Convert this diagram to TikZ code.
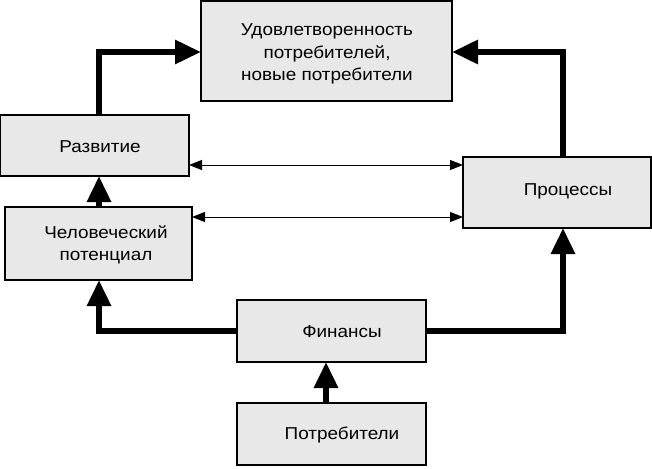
\documentclass[tikz,border=0pt]{standalone}
\usepackage{fontspec}
\setmainfont{Liberation Sans}
\newfontfamily\boxfont[FakeStretch=1.1]{Liberation Sans}
\usetikzlibrary{arrows.meta}
\begin{document}
\begin{tikzpicture}[x=1pt,y=-1pt,
  box/.style={draw=black,line width=1.5pt,fill=black!9},
  lbl/.style={font=\boxfont\fontsize{17.2}{22.5}\selectfont,align=center,inner sep=0pt},
  thick arrow/.style={line width=6pt,-{Triangle[length=26pt,width=23pt]}},
  thin arrow/.style={line width=1pt,{Triangle[length=13pt,width=10pt]}-{Triangle[length=13pt,width=10pt]}}]
\useasboundingbox (0,0) rectangle (652,468);
% boxes
\path[box] (201,1) rectangle (452,101);
\path[box] (0,115) rectangle (189,176);
\path[box] (5,207) rectangle (192,280);
\path[box] (463,157) rectangle (651,228);
\path[box] (237,300) rectangle (426,362);
\path[box] (237,403) rectangle (426,465);
\node[lbl] (toptxt) at (327,54) {Удовлетворенность\\потребителей,\\новые потребители};
\node[lbl] (razv) at (100,147) {Развитие};
\node[lbl] (chel) at (106,245) {Человеческий\\потенциал};
\node[lbl] (proc) at (568,191) {Процессы};
\node[lbl] (fin) at (342,332) {Финансы};
\node[lbl] (potr) at (342,435) {Потребители};
% named anchor points on box edges
\coordinate (razvT) at (99,115);
\coordinate (razvB) at (99,176);
\coordinate (razvR) at (189,165);
\coordinate (chelT) at (99,207);
\coordinate (chelB) at (99,280);
\coordinate (chelR) at (192,217);
\coordinate (procT) at (563,157);
\coordinate (procB) at (563,228);
\coordinate (procL1) at (463,165);
\coordinate (procL2) at (463,217);
\coordinate (topL) at (201,52);
\coordinate (topR) at (452,52);
\coordinate (finL) at (237,331);
\coordinate (finR) at (426,331);
\coordinate (finB) at (326,362);
\coordinate (potrT) at (326,403);
% thick connectors
\draw[thick arrow] (razvT) |- (topL);
\draw[thick arrow] (procT) |- (topR);
\draw[thick arrow] (chelT) -- (razvB);
\draw[thick arrow] (finL) -| (chelB);
\draw[thick arrow] (finR) -| (procB);
\draw[thick arrow] (potrT) -- (finB);
% thin connectors
\draw[thin arrow] (razvR) -- (procL1);
\draw[thin arrow] (chelR) -- (procL2);
\end{tikzpicture}
\end{document}
